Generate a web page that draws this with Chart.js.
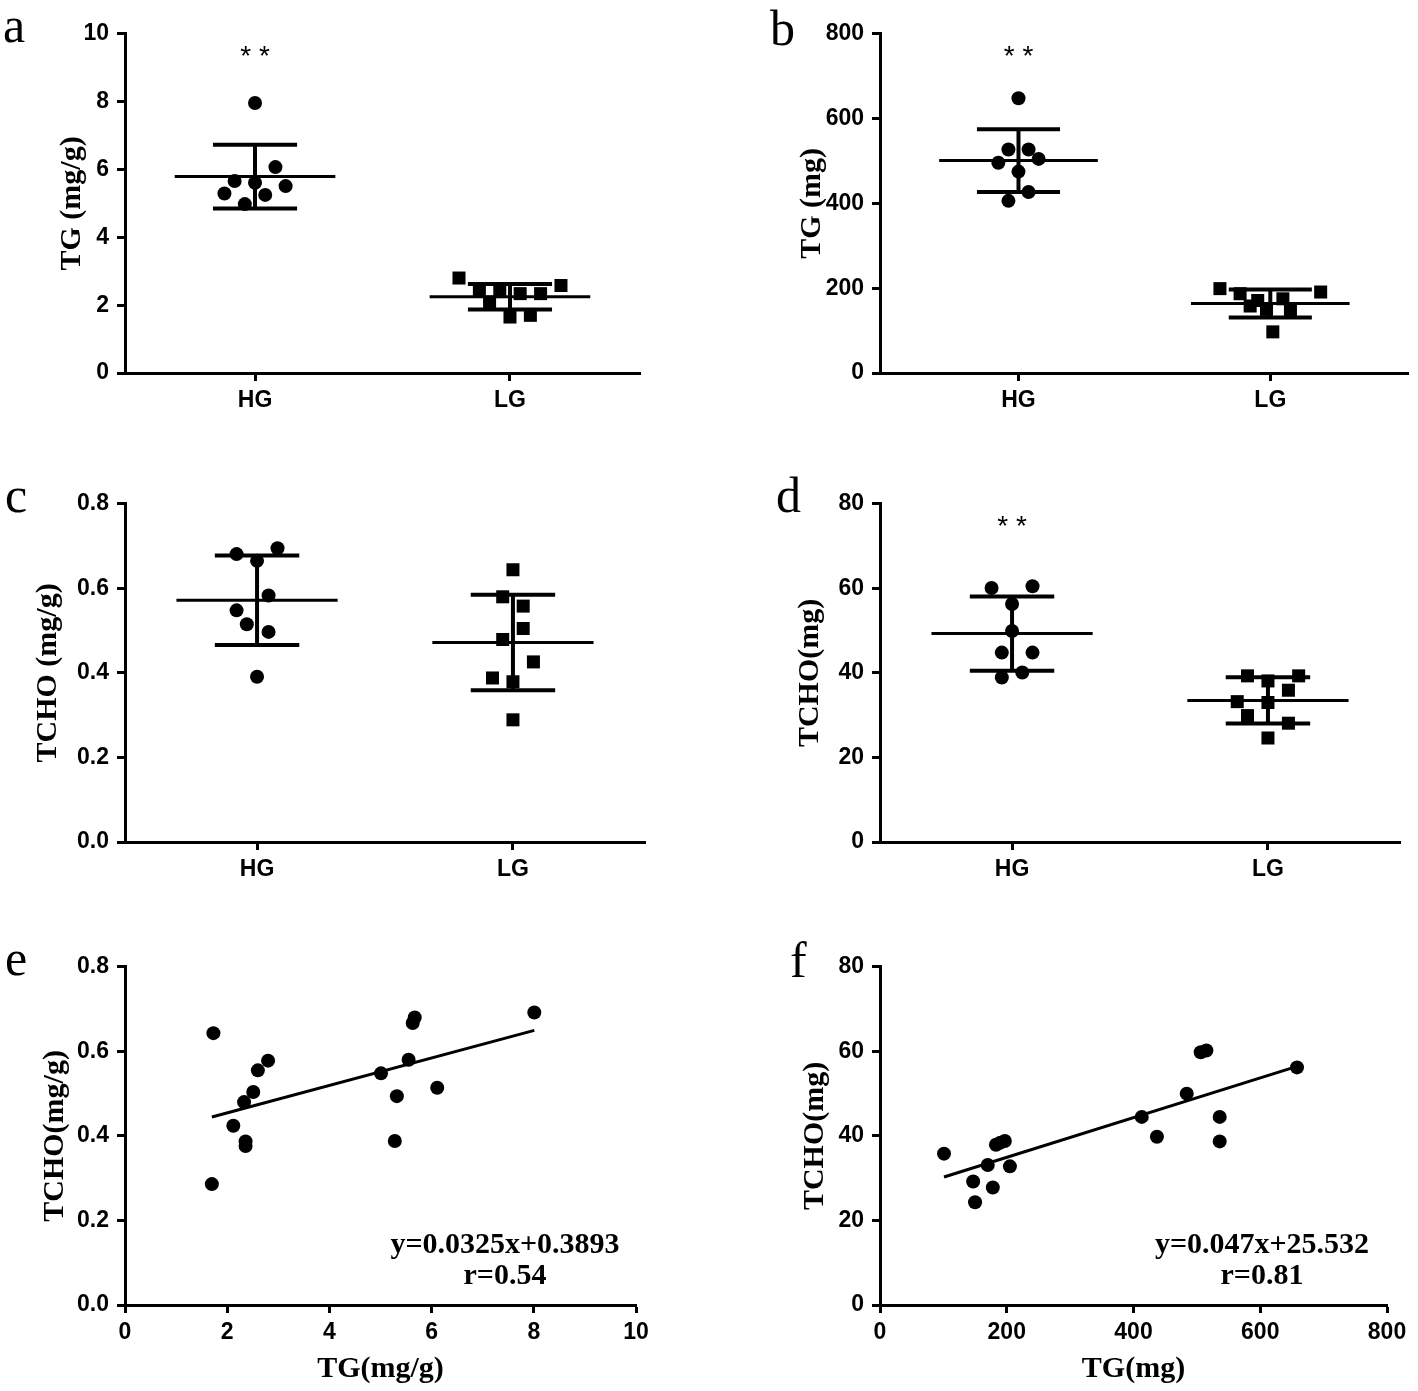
<!DOCTYPE html>
<html><head><meta charset="utf-8">
<script src="https://cdn.jsdelivr.net/npm/chart.js@4.4.0/dist/chart.umd.min.js"></script>
<style>
body{margin:0;background:#fff;width:1418px;height:1391px;position:relative;overflow:hidden}
canvas{position:absolute}
.lbl{position:absolute;font-family:"Liberation Serif";font-size:50px;line-height:50px;color:#000}
.eq{position:absolute;font-family:"Liberation Serif";font-weight:bold;font-size:30px;line-height:30px;color:#000;white-space:nowrap;transform:translate(-50%,-50%)}
</style></head><body>
<canvas id="ca" width="616" height="441" style="left:54px;top:12px"></canvas>
<canvas id="cb" width="624" height="441" style="left:794px;top:12px"></canvas>
<canvas id="cc" width="645" height="440" style="left:30px;top:482px"></canvas>
<canvas id="cd" width="620" height="440" style="left:792px;top:482px"></canvas>
<canvas id="ce" width="629" height="442" style="left:37px;top:945px"></canvas>
<canvas id="cf" width="620" height="442" style="left:797px;top:945px"></canvas>
<div class="lbl" style="left:3px;top:0px">a</div>
<div class="lbl" style="left:770px;top:3px">b</div>
<div class="lbl" style="left:5px;top:470px">c</div>
<div class="lbl" style="left:776px;top:470px">d</div>
<div class="lbl" style="left:5px;top:933px">e</div>
<div class="lbl" style="left:790px;top:935px">f</div>
<div class="eq" style="left:505px;top:1243px">y=0.0325x+0.3893</div>
<div class="eq" style="left:505px;top:1274px">r=0.54</div>
<div class="eq" style="left:1262px;top:1243px">y=0.047x+25.532</div>
<div class="eq" style="left:1262px;top:1274px">r=0.81</div>
<script>
const groups = ['HG', 'LG'];

// Panel a: TG (mg/g)
const aHG = [7.96, 6.07, 5.66, 5.61, 5.51, 5.29, 5.25, 4.98];
const aHGjit = [0, 0.08, -0.08, 0, 0.12, -0.12, 0.04, -0.04];
const aLG = [2.80, 2.58, 2.45, 2.40, 2.34, 2.34, 2.09, 1.65, 1.70];
const aLGjit = [-0.2, 0.2, -0.12, -0.04, 0.04, 0.12, -0.08, 0, 0.08];
const aMean = [5.79, 2.25];
const aSD = [0.94, 0.375];
const aSig = ['**', ''];

// Panel b: TG (mg)
const bHG = [648, 527, 527, 505, 496, 475, 427, 406];
const bHGjit = [0, -0.04, 0.04, 0.08, -0.08, 0, 0.04, -0.04];
const bLG = [199, 187, 191, 171, 175, 158, 150, 148, 97];
const bLGjit = [-0.2, -0.12, 0.2, -0.05, 0.05, -0.08, -0.015, 0.08, 0.01];
const bMean = [501, 164];
const bSD = [74, 33];
const bSig = ['**', ''];

// Panel c: TCHO (mg/g)
const cHG = [0.681, 0.695, 0.665, 0.583, 0.548, 0.515, 0.497, 0.391];
const cHGjit = [-0.08, 0.08, 0, 0.045, -0.08, -0.04, 0.045, 0];
const cLG = [0.644, 0.580, 0.558, 0.505, 0.479, 0.426, 0.388, 0.379, 0.289];
const cLGjit = [0, -0.04, 0.04, 0.04, -0.04, 0.08, -0.08, 0, 0];
const cMean = [0.572, 0.472];
const cSD = [0.106, 0.113];
const cSig = ['', ''];

// Panel d: TCHO (mg)
const dHG = [60.1, 60.5, 56.3, 49.9, 44.8, 44.8, 40.1, 38.9];
const dHGjit = [-0.08, 0.08, 0, 0, -0.04, 0.08, 0.04, -0.04];
const dLG = [39.3, 39.3, 38.1, 35.9, 33.2, 33.0, 29.9, 28.1, 24.6];
const dLGjit = [-0.08, 0.12, 0, 0.08, -0.12, 0, -0.08, 0.08, 0];
const dMean = [49.3, 33.5];
const dSD = [8.8, 5.45];
const dSig = ['**', ''];

// Panel e: TG(mg/g) vs TCHO(mg/g)
const eX = [1.73, 8.01, 5.67, 5.63, 2.80, 2.60, 5.55, 5.01, 2.51, 2.33, 6.11, 5.32, 2.12, 2.36, 2.36, 5.28, 1.70];
const eY = [0.643, 0.692, 0.680, 0.667, 0.578, 0.555, 0.580, 0.548, 0.504, 0.480, 0.514, 0.494, 0.424, 0.387, 0.376, 0.388, 0.286];
const eFit = [0.0325, 0.3893];

// Panel f: TG(mg) vs TCHO(mg)
const fX = [101, 147, 178, 150, 170, 205, 183, 197, 190, 413, 437, 484, 506, 515, 536, 536, 658];
const fY = [35.8, 29.2, 27.8, 24.3, 33.1, 32.8, 37.9, 38.8, 38.4, 44.5, 39.8, 50.0, 59.8, 60.2, 44.5, 38.7, 56.2];
const fFit = [0.047, 25.532];

const tickFont = {family: 'Liberation Sans', size: 23, weight: 'bold'};
const titleFont = {family: 'Liberation Serif', size: 30, weight: 'bold'};

function axisBase() {
  return {
    grid: {display: true, drawOnChartArea: false, drawTicks: true, tickLength: 8, tickWidth: 3, tickColor: '#000'},
    border: {display: true, color: '#000', width: 3},
    ticks: {color: '#000', font: tickFont}
  };
}

function yAxis(min, max, step, dec, title, w) {
  const a = axisBase();
  a.type = 'linear';
  a.min = min; a.max = max;
  a.ticks.stepSize = step;
  a.ticks.padding = 8;
  a.ticks.callback = v => v.toFixed(dec);
  a.title = {display: true, text: title, color: '#000', font: titleFont, padding: 0};
  a.afterFit = s => { s.width = w; };
  return a;
}

const errPlugin = {
  id: 'errbars',
  beforeDatasetsDraw(chart, args, opts) {
    if (!opts || !opts.means) return;
    const {ctx, scales: {x, y}} = chart;
    ctx.save();
    ctx.strokeStyle = '#000';
    const seg = (x1, y1, x2, y2, w) => { ctx.lineWidth = w; ctx.beginPath(); ctx.moveTo(x1, y1); ctx.lineTo(x2, y2); ctx.stroke(); };
    opts.means.forEach((m, i) => {
      const c = i + 1, sd = opts.sds[i];
      const px = x.getPixelForValue(c);
      seg(x.getPixelForValue(c - 0.315), y.getPixelForValue(m), x.getPixelForValue(c + 0.315), y.getPixelForValue(m), 3);
      seg(px, y.getPixelForValue(m - sd), px, y.getPixelForValue(m + sd), 4);
      seg(x.getPixelForValue(c - 0.165), y.getPixelForValue(m + sd), x.getPixelForValue(c + 0.165), y.getPixelForValue(m + sd), 4);
      seg(x.getPixelForValue(c - 0.165), y.getPixelForValue(m - sd), x.getPixelForValue(c + 0.165), y.getPixelForValue(m - sd), 4);
      const s = opts.sig[i];
      if (s) {
        ctx.fillStyle = '#000';
        ctx.font = '28px "Liberation Sans"';
        ctx.textAlign = 'center';
        ctx.textBaseline = 'alphabetic';
        ctx.fillText(s.split('').join(' '), px, chart.chartArea.top + 31);
      }
    });
    ctx.restore();
  }
};

function dotChart(id, hg, hgJ, lg, lgJ, means, sds, sig, yMin, yMax, yStep, dec, title, wy, xmin, xmax, padRight) {
  const xa = axisBase();
  xa.type = 'linear';
  xa.min = xmin; xa.max = xmax;
  xa.afterBuildTicks = s => { s.ticks = [{value: 1}, {value: 2}]; };
  xa.ticks.callback = v => groups[Math.round(v) - 1];
  xa.ticks.padding = 6;
  xa.afterFit = s => { s.height = 80; };
  new Chart(document.getElementById(id), {
    type: 'scatter',
    data: {
      datasets: [
        {data: hg.map((v, i) => ({x: 1 + hgJ[i], y: v})), pointStyle: 'circle', pointRadius: 7, backgroundColor: '#000', borderWidth: 0, clip: false},
        {data: lg.map((v, i) => ({x: 2 + lgJ[i], y: v})), pointStyle: 'rect', pointRadius: 9.2, backgroundColor: '#000', borderWidth: 0, clip: false}
      ]
    },
    options: {
      responsive: false, animation: false, devicePixelRatio: 1,
      layout: {padding: {top: 20, right: padRight, left: 0, bottom: 0}},
      plugins: {legend: {display: false}, tooltip: {enabled: false}, errbars: {means, sds, sig}},
      scales: {x: xa, y: yAxis(yMin, yMax, yStep, dec, title, wy)}
    },
    plugins: [errPlugin]
  });
}

function corrChart(id, xs, ys, fit, xMax, xStep, xTitle, yMax, yStep, dec, yTitle, wy) {
  const xa = axisBase();
  xa.type = 'linear';
  xa.min = 0; xa.max = xMax;
  xa.ticks.stepSize = xStep;
  xa.ticks.padding = 6;
  xa.title = {display: true, text: xTitle, color: '#000', font: titleFont, padding: 0};
  xa.afterFit = s => { s.height = 82; };
  const x0 = Math.min(...xs), x1 = Math.max(...xs);
  new Chart(document.getElementById(id), {
    type: 'scatter',
    data: {
      datasets: [
        {data: xs.map((v, i) => ({x: v, y: ys[i]})), pointStyle: 'circle', pointRadius: 7, backgroundColor: '#000', borderWidth: 0, clip: false},
        {type: 'line', data: [{x: x0, y: fit[0] * x0 + fit[1]}, {x: x1, y: fit[0] * x1 + fit[1]}], borderColor: '#000', borderWidth: 3, pointRadius: 0, fill: false}
      ]
    },
    options: {
      responsive: false, animation: false, devicePixelRatio: 1,
      layout: {padding: {top: 20, right: 30, left: 0, bottom: 0}},
      plugins: {legend: {display: false}, tooltip: {enabled: false}},
      scales: {x: xa, y: yAxis(0, yMax, yStep, dec, yTitle, wy)}
    }
  });
}

dotChart('ca', aHG, aHGjit, aLG, aLGjit, aMean, aSD, aSig, 0, 10, 2, 0, 'TG (mg/g)', 71, 0.49, 2.51, 30);
dotChart('cb', bHG, bHGjit, bLG, bLGjit, bMean, bSD, bSig, 0, 800, 200, 0, 'TG (mg)', 86, 0.45, 2.55, 7);
dotChart('cc', cHG, cHGjit, cLG, cLGjit, cMean, cSD, cSig, 0, 0.8, 0.2, 1, 'TCHO (mg/g)', 95, 0.484, 2.516, 30);
dotChart('cd', dHG, dHGjit, dLG, dLGjit, dMean, dSD, dSig, 0, 80, 20, 0, 'TCHO(mg)', 88, 0.484, 2.516, 12);
corrChart('ce', eX, eY, eFit, 10, 2, 'TG(mg/g)', 0.8, 0.2, 1, 'TCHO(mg/g)', 88);
corrChart('cf', fX, fY, fFit, 800, 200, 'TG(mg)', 80, 20, 0, 'TCHO(mg)', 83);
</script>
</body></html>
